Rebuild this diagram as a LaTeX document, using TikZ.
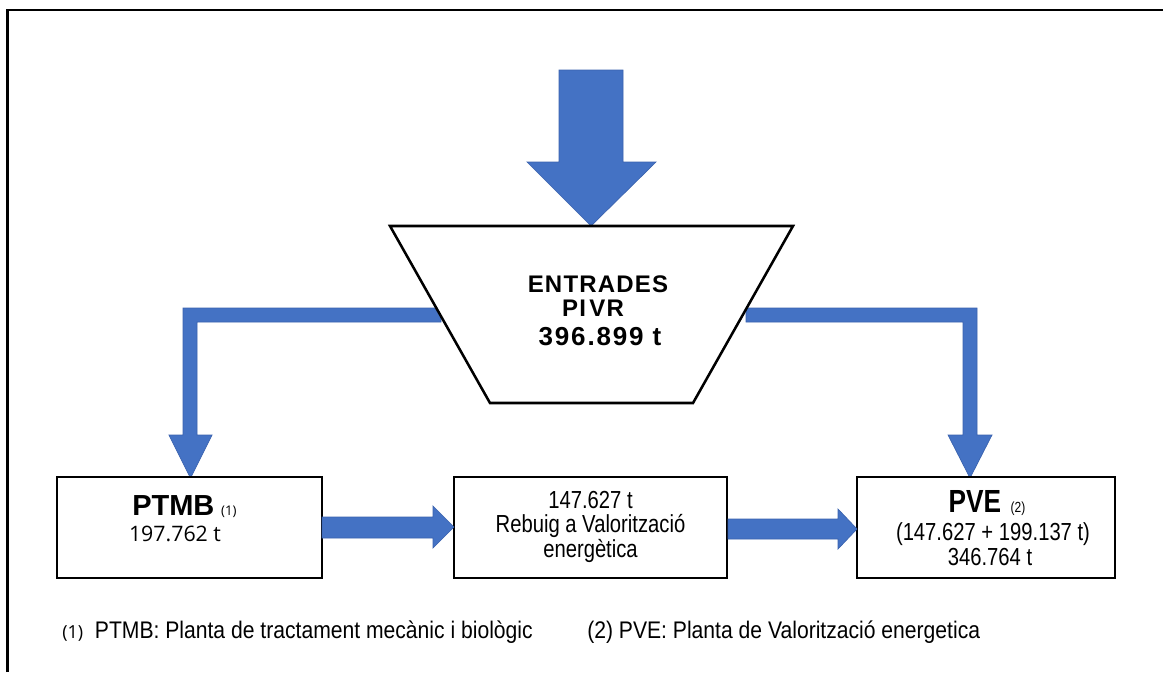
\documentclass[tikz,border=0pt]{standalone}
\usepackage{fontspec}
\setmainfont{Liberation Sans}
\newfontfamily\narrowf[FakeStretch=0.82]{Liberation Sans}
\newfontfamily\footf[FakeStretch=0.88]{Liberation Sans}
\newfontfamily\osans{Open Sans}
\newfontfamily\spaced[LetterSpace=5]{Liberation Sans}
\newfontfamily\spacednum[LetterSpace=7]{Liberation Sans}
\definecolor{arrowblue}{HTML}{4472C4}
\definecolor{arrowedge}{HTML}{3A62AE}
\tikzset{
  blockarrow/.style={fill=arrowblue, draw=arrowedge, line width=0.5pt, line join=miter},
  boxnode/.style={draw=black, line width=2.2pt, fill=white, inner sep=0pt},
  txt/.style={inner sep=0pt, align=center},
  boxtxt/.style={txt, font=\narrowf\fontsize{18.5pt}{20pt}\selectfont},
  foottxt/.style={txt, anchor=west, font=\footf\fontsize{18pt}{19pt}\selectfont},
}
\begin{document}
\begin{tikzpicture}[x=0.75pt,y=-0.75pt]
\useasboundingbox (0,0) rectangle (1163,672);
\fill[white] (0,0) rectangle (1163,672);
% frame (cropped)
\draw[line width=2.2pt] (7.5,672) -- (7.5,10) -- (1163,10);

% top incoming arrow
\filldraw[blockarrow] (559,70) -- (623,70) -- (623,162) -- (656,162) -- (591,226) -- (527,162) -- (559,162) -- cycle;

% bent arrows
\filldraw[blockarrow] (441,308) -- (183,308) -- (183,435) -- (169,435) -- (190.5,478) -- (212,435) -- (197,435) -- (197,322) -- (441,322) -- cycle;
\filldraw[blockarrow] (746,308) -- (977,308) -- (977,435) -- (992,435) -- (970,478) -- (948,435) -- (963,435) -- (963,322) -- (746,322) -- cycle;

% trapezoid
\filldraw[fill=white, draw=black, line width=1.9pt, line join=miter] (390,226) -- (793,226) -- (693,403) -- (490,403) -- cycle;
\node[txt, font=\spaced\bfseries\fontsize{18pt}{20pt}\selectfont] (ent1) at (598,284) {ENTRADES};
\node[txt, font=\spaced\bfseries\fontsize{18pt}{20pt}\selectfont] (ent2) at (593,308) {PI\kern2.5pt VR};
\node[txt, font=\spacednum\bfseries\fontsize{19.5pt}{21pt}\selectfont] (ent3) at (600,337) {396.899 t};

% boxes
\node[boxnode, minimum width=198.75pt, minimum height=75.75pt] (ptmb) at (189.5,527.5) {};
\node[boxnode, minimum width=204.75pt, minimum height=75.75pt] (rebuig) at (590.5,527.5) {};
\node[boxnode, minimum width=193.5pt, minimum height=75.75pt] (pve) at (986,527.5) {};

% horizontal arrows
\filldraw[blockarrow] (322,517) -- (433,517) -- (433,506) -- (454,527) -- (433,548) -- (433,538) -- (322,538) -- cycle;
\filldraw[blockarrow] (728,519) -- (838,519) -- (838,509) -- (857,529) -- (838,549) -- (838,539) -- (728,539) -- cycle;

% box texts
\node[txt, anchor=base west] (ptmbt) at (132,515) {\fontsize{21.75pt}{24pt}\selectfont\bfseries PTMB\kern5pt{\osans\mdseries\fontsize{10pt}{11pt}\selectfont(1)}};
\node[txt, font=\osans\fontsize{16pt}{18pt}\selectfont] (ptmbv) at (175,534) {197.762 t};

\node[boxtxt] (rb1) at (590.5,500) {147.627 t};
\node[boxtxt] (rb2) at (590.5,526) {Rebuig a Valorització};
\node[boxtxt] (rb3) at (590.5,551) {energètica};

\node[txt, anchor=base] (pvet) at (987,512) {\narrowf\fontsize{24pt}{26pt}\selectfont\bfseries PVE\kern7pt{\mdseries\fontsize{11pt}{12pt}\selectfont(2)}};
\node[boxtxt] (pve2) at (993,534) {(147.627 + 199.137 t)};
\node[boxtxt] (pve3) at (990,557) {346.764 t};

% footnotes
\node[foottxt] (fn1) at (62,632) {{\osans\fontsize{13.5pt}{15pt}\selectfont(1)}\ \ PTMB: Planta de tractament mecànic i biològic};
\node[foottxt] (fn2) at (587,632) {(2) PVE: Planta de Valorització energetica};
\end{tikzpicture}
\end{document}
